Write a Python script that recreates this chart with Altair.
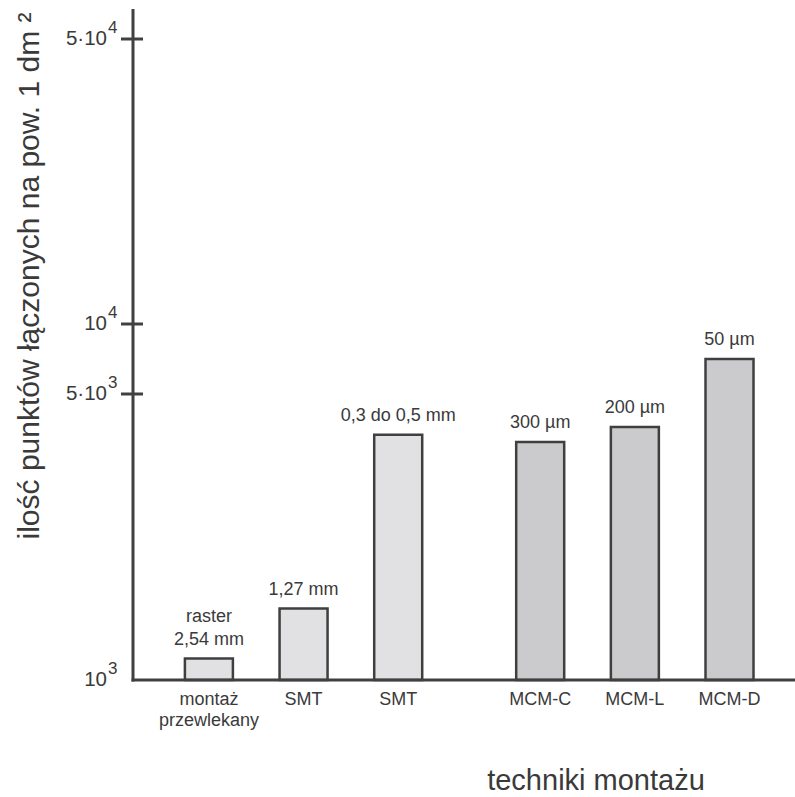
import altair as alt
import pandas as pd

# --- data ---
kategorie = ["montaż\nprzewlekany", "SMT", "SMT", "MCM-C", "MCM-L", "MCM-D"]
grupy = ["A", "A", "A", "B", "B", "B"]
etykiety = ["raster\n2,54 mm", "1,27 mm", "0,3 do 0,5 mm", "300 µm", "200 µm", "50 µm"]
wartosci = [1300, 2000, 4430, 4330, 4540, 7500]

tick_vals = [1000, 5000, 10000, 50000]
tick_base = ["10", "5·10", "10", "5·10"]
tick_exp = ["3", "3", "4", "4"]

W, H = 662, 671
FONT = "Liberation Sans"
TXT = "#3a3a3a"
LINE = "#404040"

df = pd.DataFrame({"kat": kategorie, "grupa": grupy, "etykieta": etykiety, "wartosc": wartosci})
ticks = pd.DataFrame({"v": tick_vals, "base": tick_base, "exp": tick_exp})
base_line = pd.DataFrame({"v": [tick_vals[0]]})


# the original axis is drawn with uneven spacing between its ticks:
# a piecewise-linear scale through the tick values
def scale_expr(f):
    d = f"datum['{f}']"
    return (f"{d} <= 5000 ? ({d} - 1000) / 4000 * 286 : "
            f"({d} <= 10000 ? 286 + ({d} - 5000) / 5000 * 70 : 356 + ({d} - 10000) / 40000 * 285)")


yscale = alt.Scale(domain=[0, H], nice=False, zero=False)
xscale = alt.Scale(domain=[-0.749, 6.139], nice=False, zero=False)

base = alt.Chart(df).transform_window(
    nr="row_number()"
).transform_calculate(
    poz="datum.nr - 1 + (datum.grupa == 'B' ? 0.5 : 0)",
    u=scale_expr("wartosc"),
    u0="0",
    linie="split(datum.etykieta, '\\n')",
).transform_calculate(
    ostatnia="peek(datum.linie)",
    pierwsza="length(datum.linie) > 1 ? datum.linie[0] : ''",
)

X = alt.X("poz:Q", scale=xscale, axis=None)
Y = alt.Y("u:Q", scale=yscale, axis=None)

bars = base.mark_bar(stroke="#3f3f3f", strokeWidth=2.5, width=48).encode(
    x=X, y=Y, y2="u0:Q",
    color=alt.Color("grupa:N", scale=alt.Scale(domain=["A", "B"], range=["#e1e1e3", "#cbcbcd"]), legend=None),
)

bar_labels = base.mark_text(baseline="bottom", dy=-10, fontSize=18, font=FONT, color=TXT).encode(
    x=X, y=Y, text="ostatnia:N"
)
bar_labels_top = base.mark_text(baseline="bottom", dy=-33, fontSize=18, font=FONT, color=TXT).encode(
    x=X, y=Y, text="pierwsza:N"
)

cat_labels = base.mark_text(baseline="top", dy=11, fontSize=18, font=FONT, color=TXT,
                            lineBreak="\n", lineHeight=21).encode(
    x=X, y=alt.Y("u0:Q", scale=yscale, axis=None), text="kat:N"
)

tick_base_chart = alt.Chart(ticks).transform_calculate(u=scale_expr("v"))
TY = alt.Y("u:Q", scale=yscale, axis=None)

xaxis_line = alt.Chart(base_line).transform_calculate(u=scale_expr("v")).mark_rule(
    color=LINE, strokeWidth=3).encode(y=TY, x=alt.value(-1.5), x2=alt.value(W))
yaxis_line = alt.Chart(base_line).mark_rule(color=LINE, strokeWidth=3).encode(
    x=alt.value(0), y=alt.value(0), y2=alt.value(H + 1.5)
)

tick_marks = tick_base_chart.transform_filter("datum.v > 1000").mark_rule(color=LINE, strokeWidth=3).encode(
    y=TY, x=alt.value(-12), x2=alt.value(10)
)
tick_text = tick_base_chart.mark_text(align="right", baseline="middle", fontSize=20.5, font=FONT, color=TXT).encode(
    y=TY, x=alt.value(-26), text="base:N"
)
tick_sup = tick_base_chart.mark_text(align="left", baseline="middle", dy=-11, fontSize=17, font=FONT, color=TXT).encode(
    y=TY, x=alt.value(-25), text="exp:N"
)

ytitle = alt.Chart(base_line).mark_text(
    text="ilość punktów łączonych na pow. 1 dm ²", angle=270, fontSize=30, font=FONT, color=TXT,
    align="center", baseline="middle"
).encode(x=alt.value(-103), y=alt.value(267))

xtitle = alt.Chart(base_line).mark_text(
    text="techniki montażu", fontSize=29, font=FONT, color=TXT, align="center", baseline="alphabetic"
).encode(x=alt.value(463), y=alt.value(781))

chart = alt.layer(
    bars, bar_labels, bar_labels_top, cat_labels, xaxis_line, yaxis_line,
    tick_marks, tick_text, tick_sup, ytitle, xtitle
).properties(
    width=W, height=H,
    autosize=alt.AutoSizeParams(type="none"),
    padding={"left": 133, "top": 9, "right": 0, "bottom": 117},
    background="white",
).configure_view(stroke=None)

chart.save("out.html", embed_options={"renderer": "svg", "actions": False})
